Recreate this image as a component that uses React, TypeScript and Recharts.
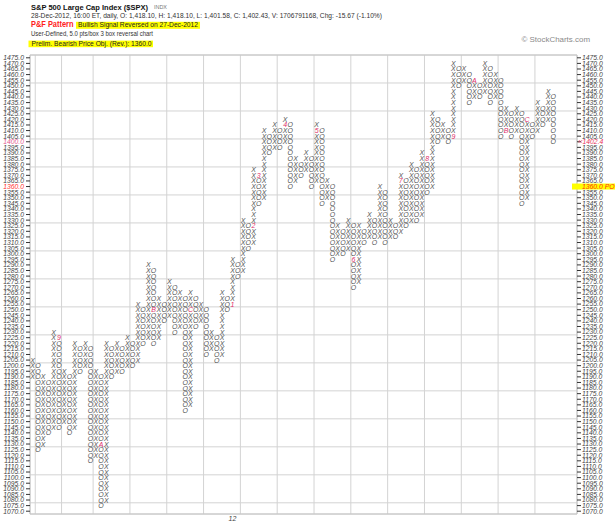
import React from "react";
import {
  CartesianGrid,
  ReferenceArea,
  Scatter,
  ScatterChart,
  XAxis,
  YAxis,
} from "recharts";

const FONT = "'Liberation Sans', Arial, sans-serif";

// point & figure setup
const boxSize = 5;
const priceMin = 1070;
const priceMax = 1475;
const colCount = 104;
const firstKind = "X";

// column ranges (bottom box / top box), left to right, X and O alternate
const colLow = [
  1190, 1125, 1130, 1140, 1145, 1145, 1150, 1140, 1145, 1195,
  1200, 1115, 1120, 1075, 1080, 1190, 1195, 1195, 1200, 1200,
  1205, 1220, 1225, 1220, 1225, 1240, 1245, 1230, 1235, 1160,
  1165, 1235, 1240, 1210, 1215, 1205, 1210, 1250, 1255, 1280,
  1285, 1305, 1310, 1345, 1350, 1390, 1395, 1395, 1400, 1360,
  1365, 1370, 1375, 1360, 1365, 1345, 1350, 1295, 1300, 1300,
  1305, 1270, 1275, 1310, 1315, 1310, 1315, 1310, 1315, 1315,
  1320, 1325, 1330, 1330, 1335, 1355, 1360, 1400, 1405, 1400,
  1405, 1450, 1455, 1435, 1440, 1440, 1445, 1435, 1440, 1405,
  1410, 1405, 1410, 1345, 1350, 1405, 1410, 1415, 1420, 1400,
];
const colHigh = [
  1205, 1200, 1190, 1185, 1230, 1225, 1195, 1190, 1220, 1215,
  1220, 1215, 1195, 1190, 1220, 1215, 1220, 1215, 1225, 1220,
  1255, 1250, 1290, 1285, 1260, 1255, 1275, 1270, 1265, 1260,
  1265, 1260, 1255, 1250, 1230, 1225, 1265, 1260, 1295, 1290,
  1330, 1325, 1375, 1370, 1410, 1405, 1415, 1410, 1420, 1415,
  1385, 1380, 1390, 1385, 1415, 1410, 1365, 1360, 1325, 1320,
  1330, 1325, 1325, 1320, 1335, 1330, 1360, 1355, 1330, 1325,
  1370, 1365, 1380, 1375, 1390, 1385, 1425, 1420, 1415, 1410,
  1470, 1465, 1465, 1460, 1455, 1450, 1470, 1465, 1460, 1455,
  1430, 1425, 1430, 1425, 1420, 1415, 1435, 1430, 1445, 1440,
];

// month markers (first box of each month)
const markCols = [6, 14, 24, 31, 39, 43, 44, 49, 55, 62, 71, 76, 81, 85, 91, 95];
const markPrices = [1225, 1130, 1250, 1250, 1255, 1325, 1370, 1415, 1410, 1295, 1365, 1385, 1405, 1455, 1410, 1420];
const markLabels = ["9", "A", "B", "C", "1", "2", "3", "4", "5", "6", "7", "8", "9", "A", "B", "C"];

const yearCols = [39];
const yearLabels = ["12"];

const lastBox = 1400;
const lastPrice = "1402.4";
const targetPrice = 1360;

type Box = { col: number; price: number; ch: string };

const markBoxes: Box[] = markCols.map((c, i) => ({ col: c, price: markPrices[i], ch: markLabels[i] }));
const xBoxes: Box[] = [];
const oBoxes: Box[] = [];
colLow.forEach((low, i) => {
  const col = i + 1;
  const kind = (i % 2 === 0) === (firstKind === "X") ? "X" : "O";
  for (let p = low; p <= colHigh[i]; p += boxSize) {
    if (markBoxes.some((m) => m.col === col && m.price === p)) continue;
    (kind === "X" ? xBoxes : oBoxes).push({ col, price: p, ch: kind });
  }
});

const priceTicks: number[] = [];
for (let p = priceMin; p <= priceMax; p += boxSize) priceTicks.push(p);
const rowEdges = [priceMin - boxSize / 2, ...priceTicks.map((p) => p + boxSize / 2)];
const colEdges = Array.from({ length: colCount + 1 }, (_, i) => i + 0.5);

const glyph = (color: string) => (props: any) => {
  const { cx, cy, payload } = props;
  if (cx == null || cy == null) return <g />;
  return (
    <text x={cx} y={cy} dy={2.5} textAnchor="middle" fontSize={7} fontStyle="italic" fill={color} fontFamily={FONT}>
      {payload.ch}
    </text>
  );
};

function LeftTick(props: any) {
  const { x, y, payload } = props;
  const v = payload.value;
  const fill = v === lastBox ? "#e4588e" : v === targetPrice ? "#ff3030" : "#444";
  return (
    <text x={x} y={y} dy={2.4} textAnchor="end" fontSize={6.8} fontStyle="italic" fill={fill} fontFamily={FONT}>
      {v.toFixed(1)}
    </text>
  );
}

function RightTick(props: any) {
  const { x, y, payload } = props;
  const v = payload.value;
  if (v === lastBox) {
    return (
      <text x={x - 4} y={y} dy={2.4} fontSize={6.8} fontStyle="italic" fill="#e8305a" fontFamily={FONT}>
        {"‹‹" + lastPrice}
      </text>
    );
  }
  if (v === targetPrice) {
    return (
      <g>
        <rect x={x - 10} y={y - 3} width={615 - (x - 10)} height={6} fill="#ffff00" />
        <text x={x} y={y} dy={2.4} fontSize={6.8} fontStyle="italic" fill="#ff2a1a" fontFamily={FONT}>
          {v.toFixed(1) + " PO"}
        </text>
      </g>
    );
  }
  return (
    <text x={x} y={y} dy={2.4} fontSize={6.8} fontStyle="italic" fill="#444" fontFamily={FONT}>
      {v.toFixed(1)}
    </text>
  );
}

function YearTick(props: any) {
  const { x, payload } = props;
  const label = yearLabels[yearCols.indexOf(payload.value)] ?? "";
  return (
    <text x={x} y={521} textAnchor="middle" fontSize={7} fontStyle="italic" fill="#444" fontFamily={FONT}>
      {label}
    </text>
  );
}

function Header() {
  const t = { fontFamily: FONT };
  return (
    <svg width={615} height={52} style={{ position: "absolute", left: 0, top: 0 }}>
      <text x={31} y={9.5} fontSize={7.4} fontWeight="bold" fill="#111" textLength={117} lengthAdjust="spacingAndGlyphs" {...t}>
        S&amp;P 500 Large Cap Index ($SPX)
      </text>
      <text x={154} y={9.3} fontSize={5.5} fill="#777" textLength={13} lengthAdjust="spacingAndGlyphs" {...t}>
        INDX
      </text>
      <text x={31} y={17.5} fontSize={6.3} fill="#333" textLength={351} lengthAdjust="spacingAndGlyphs" {...t}>
        28-Dec-2012, 16:00 ET, daily, O: 1,418.10, H: 1,418.10, L: 1,401.58, C: 1,402.43, V: 1706791168, Chg: -15.67 (-1.10%)
      </text>
      <text x={31} y={26.5} fontSize={8.5} fontWeight="bold" fill="#ff2020" textLength={42.5} lengthAdjust="spacingAndGlyphs" {...t}>
        P&amp;F Pattern
      </text>
      <rect x={76} y={21.8} width={124} height={7} fill="#ffff00" />
      <text x={78} y={27} fontSize={6.3} fill="#222" textLength={120} lengthAdjust="spacingAndGlyphs" {...t}>
        Bullish Signal Reversed on 27-Dec-2012
      </text>
      <text x={31} y={36} fontSize={6.3} fill="#333" textLength={122} lengthAdjust="spacingAndGlyphs" {...t}>
        User-Defined, 5.0 pts/box 3 box reversal chart
      </text>
      <rect x={28.5} y={40.6} width={124.5} height={6.6} fill="#ffff00" />
      <text x={31.5} y={46} fontSize={6.3} fill="#222" textLength={120} lengthAdjust="spacingAndGlyphs" {...t}>
        Prelim. Bearish Price Obj. (Rev.): 1360.0
      </text>
      <text x={521.5} y={42} fontSize={8} fill="#8a8a8a" textLength={68.5} lengthAdjust="spacingAndGlyphs" {...t}>
        © StockCharts.com
      </text>
    </svg>
  );
}

export default function App() {
  return (
    <div style={{ position: "relative", width: 615, height: 524, background: "#fff" }}>
      <style>{"body{margin:0}"}</style>
      <Header />
      <ScatterChart width={615} height={524} margin={{ top: 55, right: 0, bottom: 0, left: 0 }}>
        <XAxis xAxisId="g" type="number" dataKey="col" domain={[0.5, colCount + 0.5]} ticks={colEdges} hide allowDataOverflow />
        <YAxis yAxisId="g" type="number" dataKey="price" domain={[priceMin - 2.5, priceMax + 2.5]} ticks={rowEdges} hide allowDataOverflow />
        <CartesianGrid xAxisId="g" yAxisId="g" stroke="#d3d3d3" />
        <ReferenceArea
          xAxisId="g"
          yAxisId="g"
          x1={0.5}
          x2={colCount + 0.5}
          y1={priceMin - 2.5}
          y2={priceMax + 2.5}
          fill="none"
          stroke="#c4c4c4"
        />
        <XAxis
          xAxisId="main"
          type="number"
          dataKey="col"
          domain={[0.5, colCount + 0.5]}
          ticks={yearCols}
          height={10}
          axisLine={false}
          tickLine={false}
          tick={<YearTick />}
          allowDataOverflow
        />
        <YAxis
          yAxisId="L"
          orientation="left"
          type="number"
          dataKey="price"
          width={30}
          domain={[priceMin - 2.5, priceMax + 2.5]}
          ticks={priceTicks}
          interval={0}
          axisLine={false}
          tickSize={4}
          tickLine={{ stroke: "#333" }}
          tick={<LeftTick />}
          allowDataOverflow
        />
        <YAxis
          yAxisId="R"
          orientation="right"
          type="number"
          dataKey="price"
          width={38}
          domain={[priceMin - 2.5, priceMax + 2.5]}
          ticks={priceTicks}
          interval={0}
          axisLine={false}
          tickSize={4}
          tickMargin={1}
          tickLine={{ stroke: "#333" }}
          tick={<RightTick />}
          allowDataOverflow
        />
        <Scatter xAxisId="main" yAxisId="L" data={xBoxes} shape={glyph("#555")} isAnimationActive={false} />
        <Scatter xAxisId="main" yAxisId="L" data={oBoxes} shape={glyph("#555")} isAnimationActive={false} />
        <Scatter xAxisId="main" yAxisId="L" data={markBoxes} shape={glyph("#e0306a")} isAnimationActive={false} />
      </ScatterChart>
    </div>
  );
}
